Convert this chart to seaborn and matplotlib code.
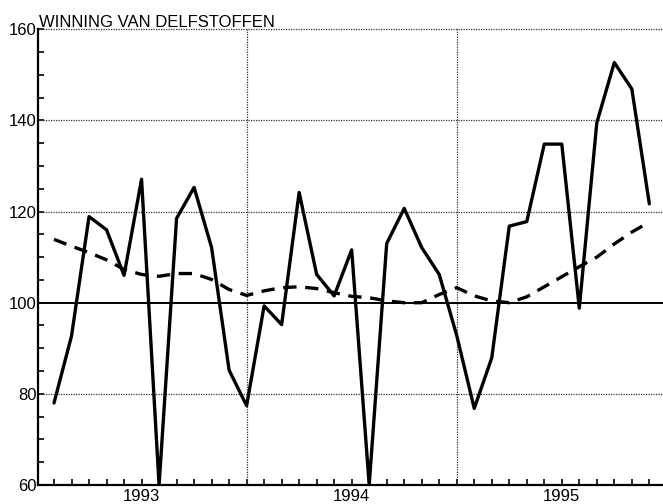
import matplotlib
matplotlib.use("Agg")
import matplotlib.pyplot as plt
import seaborn as sns
import pandas as pd
import numpy as np

title = "WINNING VAN DELFSTOFFEN"

# month index (0 = first month shown)
months = list(range(35))

# original series (solid)
value = [78.0, 92.7, 118.9, 116.0, 106.0, 127.1, 60.0, 118.5, 125.3, 112.1,
         85.2, 77.4, 99.3, 95.2, 124.2, 106.2, 101.5, 111.6, 60.0, 113.0,
         120.7, 112.1, 106.2, 92.8, 76.8, 87.9, 116.8, 117.8, 134.8, 134.8,
         98.8, 139.5, 152.7, 146.9, 121.7]

# trend (dashed)
trend = [113.9, 112.4, 111.0, 109.4, 107.3, 106.2, 105.8, 106.4, 106.4, 105.1,
         102.9, 101.6, 102.6, 103.3, 103.5, 103.1, 102.2, 101.4, 101.1, 100.4,
         100.0, 100.0, 101.8, 103.3, 101.5, 100.4, 100.0, 101.3, 103.5, 105.7,
         107.9, 110.0, 112.9, 115.5, 117.7]

year_labels = ["1993", "1994", "1995"]
year_label_pos = [5, 17, 29]
year_grid_pos = [11, 23]

y_major = [60, 80, 100, 120, 140, 160]

df = pd.DataFrame({"maand": months, "waarde": value, "trend": trend})

sns.set_theme(style="white")
plt.rcParams["font.family"] = ["Liberation Sans", "DejaVu Sans"]

fig = plt.figure(figsize=(6.63, 5.04), dpi=100)
ax = fig.add_axes([0.0569, 0.0377, 1.0 - 0.0569, 0.9042])

# grid lines
for yv in [80, 120, 140, 160]:
    ax.axhline(yv, color="#333333", lw=0.9, ls=(0, (1, 1)), zorder=1, clip_on=False)
for xv in year_grid_pos:
    ax.axvline(xv, color="#333333", lw=0.9, ls=(0, (1, 1)), zorder=1)
ax.axhline(100, color="black", lw=1.4, zorder=2)

sns.lineplot(data=df, x="maand", y="waarde", ax=ax, color="black", lw=2.4, zorder=4)
sns.lineplot(data=df, x="maand", y="trend", ax=ax, color="black", lw=2.4,
             zorder=3, dashes=False)
ax.lines[-1].set_linestyle((0, (4, 2.6)))

ax.set_xlim(-0.93, 34.78)
ax.set_ylim(60, 160)

ax.xaxis.remove_overlapping_locs = False
ax.set_xticks(months)
ax.set_xticklabels([""] * len(months))
ax.set_xticks(year_label_pos, minor=True)
ax.set_xticklabels(year_labels, minor=True, fontsize=12)
ax.tick_params(axis="x", which="major", direction="in", length=4, width=1.2,
               color="black", bottom=True)
ax.tick_params(axis="x", which="minor", length=0, pad=3, colors="black",
               labelbottom=True)

ax.set_yticks(y_major)
ax.set_yticklabels([str(v) for v in y_major], fontsize=12)
ax.set_yticks(np.arange(60, 161, 5), minor=True)
ax.tick_params(axis="y", which="both", direction="in", length=4, width=1.2,
               color="black", left=True, pad=1)
ax.tick_params(axis="y", which="major", labelcolor="black")

ax.set_xlabel("")
ax.set_ylabel("")

for s in ["top", "right"]:
    ax.spines[s].set_visible(False)
for s in ["left", "bottom"]:
    ax.spines[s].set_color("black")
    ax.spines[s].set_linewidth(1.6)

fig.text(39 / 663, 1 - 27 / 504, title, fontsize=12, color="black",
         ha="left", va="baseline")

fig.savefig("out.png", dpi=100)
